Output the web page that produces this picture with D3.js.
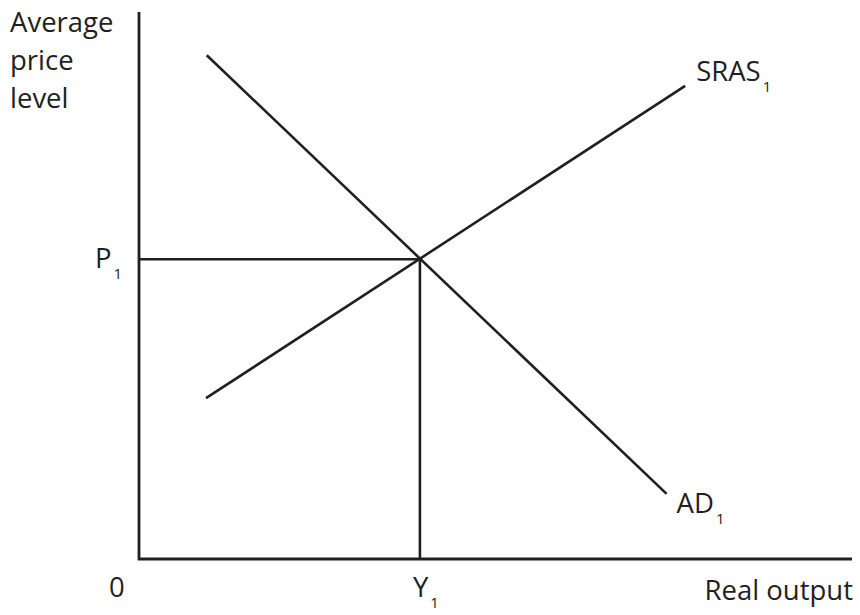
<!DOCTYPE html>
<html><head><meta charset="utf-8">
<script src="https://cdn.jsdelivr.net/npm/d3@7"></script>
<style>html,body{margin:0;padding:0;background:#fff;}svg{display:block;}</style>
</head><body>
<svg id="chart" width="860" height="615"></svg>
<script>
// Data (diagram units: output 0-100, price level 0-100)
const adCurve = [{x: 9.5, y: 92.1}, {x: 74.0, y: 11.9}];
const srasCurve = [{x: 9.4, y: 29.4}, {x: 76.6, y: 86.5}];
const equilibrium = {x: 39.4, y: 54.8};
const curveLabels = ["AD", "SRAS"];
const axisLabels = {y: ["Average", "price", "level"], x: "Real output", origin: "0"};
const eqLabels = {p: "P", y: "Y", sub: "1"};

const svg = d3.select("#chart");
const ink = "#231f20";
const font = "'Open Sans', sans-serif";
const fs = 27.5;
const x = d3.scaleLinear().domain([0, 100]).range([139, 852]);
const y = d3.scaleLinear().domain([0, 100]).range([559, 12]);
const line = d3.line().x(d => x(d.x)).y(d => y(d.y));

// axes
svg.append("path").attr("d", line([{x:0,y:100},{x:0,y:0},{x:100,y:0}]))
  .attr("fill","none").attr("stroke",ink).attr("stroke-width",2.8);

// equilibrium guides
svg.append("path").attr("d", line([{x:0,y:equilibrium.y},{x:equilibrium.x,y:equilibrium.y},{x:equilibrium.x,y:0}]))
  .attr("fill","none").attr("stroke",ink).attr("stroke-width",2.6);

// curves
[adCurve, srasCurve].forEach(c => {
  svg.append("path").attr("d", line(c)).attr("fill","none").attr("stroke",ink).attr("stroke-width",2.6);
});

function label(xp, yp, main, sub) {
  const t = svg.append("text").attr("x", xp).attr("y", yp)
    .attr("font-family", font).attr("font-size", fs).attr("fill", ink);
  t.append("tspan").text(main);
  if (sub) t.append("tspan").attr("dx", 2).attr("dy", 11).attr("font-size", 15).text(sub);
  return t;
}

// y axis label
axisLabels.y.forEach((s, i) => {
  svg.append("text").attr("x", 10).attr("y", 32 + i * 38)
    .attr("font-family", font).attr("font-size", fs).attr("fill", ink).text(s);
});
// x axis label
svg.append("text").attr("x", 853).attr("y", 600).attr("text-anchor","end")
  .attr("font-family", font).attr("font-size", fs).attr("fill", ink).text(axisLabels.x);
svg.append("text").attr("x", 109).attr("y", 597)
  .attr("font-family", font).attr("font-size", fs).attr("fill", ink).text(axisLabels.origin);

label(95, 268, eqLabels.p, eqLabels.sub);
label(x(equilibrium.x) - 7, 597, eqLabels.y, eqLabels.sub);
label(x(adCurve[1].x) + 10, 513, curveLabels[0], "1");
label(x(srasCurve[1].x) + 11, 81, curveLabels[1], "1");
</script>
</body></html>
